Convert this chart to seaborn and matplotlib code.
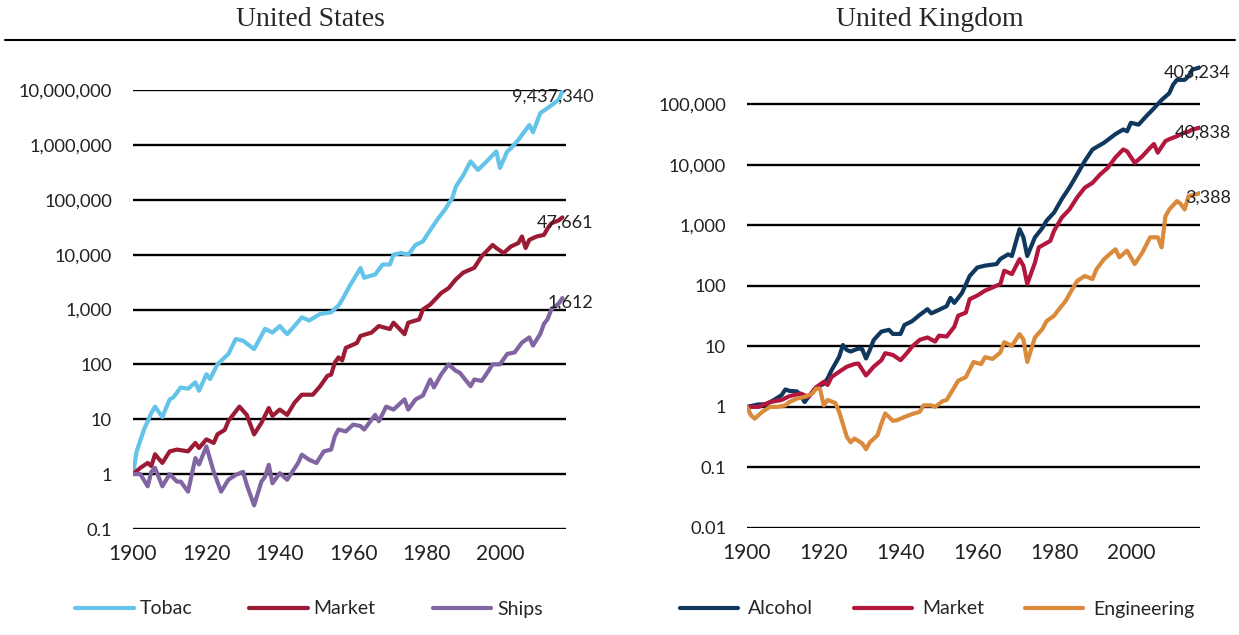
import matplotlib
matplotlib.use("Agg")
import matplotlib.pyplot as plt
from matplotlib.lines import Line2D
from matplotlib.ticker import FuncFormatter, FixedLocator
import seaborn as sns
import pandas as pd

# ---- United States (cumulative wealth, log scale)
us_tobac_years = [1900, 1901, 1903, 1905, 1906, 1908, 1910, 1911, 1913, 1915, 1917, 1918, 1920, 1921,
                  1923, 1926, 1928, 1930, 1933, 1936, 1938, 1940, 1942, 1944, 1946, 1948, 1951, 1954,
                  1956, 1957, 1959, 1962, 1963, 1966, 1968, 1970, 1971, 1973, 1975, 1977, 1979, 1981,
                  1983, 1985, 1987, 1988, 1990, 1992, 1994, 1996, 1999, 2000, 2002, 2003, 2005, 2008,
                  2009, 2011, 2013, 2016, 2017]
us_tobac = [1, 2.6, 6.5, 13, 17, 11, 23, 25, 38, 36, 47, 33, 66, 54,
            100, 155, 290, 270, 190, 445, 380, 500, 355, 500, 720, 630, 830, 890,
            1180, 1500, 2650, 5700, 3800, 4350, 6600, 6600, 10000, 10700, 10000, 15000, 17400, 28000,
            44000, 66000, 107000, 174000, 280000, 500000, 350000, 470000, 760000, 380000, 760000, 870000,
            1230000, 2300000, 1700000, 3800000, 4700000, 6600000, 9437340]

us_market_years = [1900, 1902, 1904, 1905, 1906, 1908, 1910, 1912, 1915, 1917, 1918, 1920, 1922, 1923,
                   1925, 1926, 1929, 1931, 1933, 1935, 1937, 1938, 1940, 1942, 1944, 1946, 1949, 1951,
                   1953, 1954, 1955, 1956, 1957, 1958, 1961, 1962, 1965, 1967, 1970, 1971, 1974, 1975,
                   1978, 1979, 1981, 1984, 1986, 1988, 1990, 1993, 1995, 1998, 1999, 2001, 2003, 2005,
                   2006, 2007, 2008, 2010, 2012, 2013, 2014, 2016, 2017]
us_market = [1, 1.3, 1.6, 1.4, 2.3, 1.6, 2.6, 2.8, 2.6, 3.7, 3.0, 4.3, 3.7, 5.3,
             6.4, 9.3, 17, 12, 5.3, 8.6, 16, 11.5, 15, 12, 20, 28, 28, 40,
             62, 65, 108, 134, 118, 200, 245, 330, 380, 500, 440, 575, 355, 575,
             660, 1000, 1230, 2000, 2450, 3550, 4700, 5750, 9300, 15000, 13200, 10700, 14100, 16200,
             21400, 13200, 18600, 21400, 22900, 30200, 37200, 42000, 47661]

us_ships_years = [1900, 1902, 1904, 1905, 1906, 1908, 1910, 1912, 1913, 1915, 1917, 1918, 1920, 1922,
                  1924, 1926, 1928, 1930, 1931, 1933, 1935, 1936, 1937, 1938, 1940, 1942, 1945, 1946,
                  1948, 1950, 1952, 1954, 1955, 1956, 1958, 1960, 1962, 1963, 1966, 1967, 1969, 1971,
                  1973, 1974, 1975, 1977, 1979, 1981, 1982, 1984, 1986, 1988, 1989, 1992, 1993, 1995,
                  1996, 1998, 2000, 2002, 2004, 2006, 2008, 2009, 2011, 2012, 2013, 2014, 2016, 2017]
us_ships = [1, 1.0, 0.6, 1.1, 1.3, 0.6, 1.0, 0.73, 0.73, 0.48, 1.96, 1.5, 3.2, 1.1,
            0.48, 0.79, 0.97, 1.1, 0.64, 0.27, 0.73, 0.9, 1.48, 0.68, 1.04, 0.79, 1.6, 2.26,
            1.83, 1.6, 2.6, 2.8, 4.9, 6.5, 6.0, 8.0, 7.5, 6.5, 12, 9.2, 17, 15,
            20, 23, 15, 23, 27, 53, 38, 66, 100, 76, 71, 40, 53, 50,
            62, 100, 100, 155, 165, 250, 310, 220, 360, 550, 670, 1000, 1280, 1612]

# ---- United Kingdom
uk_alcohol_years = [1900, 1903, 1905, 1907, 1909, 1910, 1911, 1913, 1914, 1915, 1916, 1918, 1920, 1921,
                    1922, 1924, 1925, 1926, 1927, 1929, 1930, 1931, 1932, 1933, 1935, 1937, 1938, 1940,
                    1941, 1943, 1945, 1947, 1948, 1950, 1952, 1953, 1954, 1956, 1958, 1960, 1962, 1965,
                    1966, 1968, 1969, 1971, 1972, 1973, 1975, 1977, 1978, 1980, 1982, 1984, 1986, 1988,
                    1990, 1993, 1996, 1998, 1999, 2000, 2002, 2004, 2006, 2008, 2010, 2011, 2012, 2014,
                    2015, 2016, 2018]
uk_alcohol = [1, 1.1, 1.1, 1.3, 1.56, 1.94, 1.84, 1.8, 1.56, 1.2, 1.46, 2.1, 2.4, 2.95,
              4, 6.7, 10.5, 8.7, 8.2, 9.2, 9.0, 6.3, 8.7, 12.7, 17.5, 18.7, 16, 16,
              22.5, 26, 33, 41, 35, 40, 46, 63, 52, 76, 145, 200, 215, 228,
              277, 330, 310, 860, 630, 310, 630, 910, 1180, 1620, 2700, 4200, 6900, 11500,
              17800, 23000, 32000, 38000, 35500, 49000, 45700, 63000, 85000, 117000, 151000, 209000,
              251000, 251000, 288000, 370000, 403234]

uk_market_years = [1900, 1903, 1906, 1909, 1911, 1914, 1916, 1918, 1920, 1921, 1922, 1924, 1926, 1928,
                   1929, 1931, 1933, 1935, 1936, 1938, 1940, 1942, 1943, 1945, 1947, 1949, 1950, 1952,
                   1954, 1955, 1957, 1958, 1960, 1962, 1964, 1966, 1967, 1969, 1971, 1972, 1973, 1975,
                   1976, 1979, 1980, 1982, 1984, 1986, 1988, 1990, 1992, 1994, 1996, 1998, 1999, 2001,
                   2003, 2005, 2006, 2007, 2009, 2010, 2012, 2014, 2015, 2016, 2018]
uk_market = [1, 1.0, 1.2, 1.3, 1.5, 1.66, 1.46, 2.1, 2.6, 2.3, 3.1, 3.8, 4.6, 5.1,
             5.2, 3.3, 4.6, 5.9, 7.7, 7.2, 5.9, 8.2, 9.9, 12.8, 14, 12, 15, 14.5,
             21, 32, 36, 60, 69, 83, 94, 107, 177, 156, 275, 214, 107, 240,
             430, 550, 810, 1340, 1820, 2880, 4170, 5000, 6900, 8900, 13200, 17800, 16600, 10700,
             13800, 19000, 21900, 15800, 24500, 26300, 29500, 33900, 35000, 38000, 40838]

uk_eng_years = [1900, 1901, 1902, 1904, 1906, 1908, 1910, 1911, 1913, 1915, 1917, 1918, 1919, 1920,
                1921, 1923, 1924, 1926, 1927, 1928, 1930, 1931, 1932, 1934, 1935, 1936, 1938, 1939,
                1941, 1943, 1945, 1946, 1948, 1949, 1951, 1952, 1954, 1955, 1957, 1959, 1961, 1962,
                1964, 1966, 1967, 1969, 1971, 1972, 1973, 1975, 1977, 1978, 1980, 1981, 1983, 1985,
                1986, 1988, 1990, 1991, 1993, 1995, 1996, 1997, 1999, 2001, 2003, 2005, 2007, 2008,
                2009, 2010, 2012, 2013, 2014, 2015, 2018]
uk_eng = [1, 0.73, 0.64, 0.83, 1.0, 1.0, 1.06, 1.2, 1.37, 1.46, 1.66, 2.0, 2.0, 1.06,
          1.3, 1.16, 0.83, 0.32, 0.26, 0.3, 0.25, 0.2, 0.26, 0.34, 0.53, 0.78, 0.59, 0.6,
          0.68, 0.76, 0.83, 1.06, 1.06, 1.0, 1.25, 1.3, 2.1, 2.7, 3.1, 5.5, 5.1, 6.6,
          6.2, 7.9, 11.7, 10.2, 15.9, 13, 5.5, 14, 19.5, 26, 32, 39, 56, 94,
          120, 145, 129, 186, 275, 355, 400, 295, 380, 228, 355, 630, 630, 430,
          1400, 1820, 2500, 2240, 1820, 3000, 3388]

us_series = [("Tobac", us_tobac_years, us_tobac, "#63C3E8"),
             ("Market", us_market_years, us_market, "#9C1B34"),
             ("Ships", us_ships_years, us_ships, "#8165A3")]
uk_series = [("Alcohol", uk_alcohol_years, uk_alcohol, "#10385F"),
             ("Market", uk_market_years, uk_market, "#B3173D"),
             ("Engineering", uk_eng_years, uk_eng, "#DA8A3B")]

us_ticks = [0.1, 1, 10, 100, 1000, 10000, 100000, 1000000, 10000000]
uk_ticks = [0.01, 0.1, 1, 10, 100, 1000, 10000, 100000]
year_ticks = [1900, 1920, 1940, 1960, 1980, 2000]

sns.set_style("white")
plt.rcParams['font.family'] = ['Lato', 'DejaVu Sans']

W, H = 1239, 635
fig = plt.figure(figsize=(W / 100, H / 100), dpi=100)


def fmt(v, pos):
    if v >= 1:
        return f"{int(round(v)):,}"
    return f"{v:g}"


def draw_panel(ax, series, ticks, ylim):
    for name, yrs, vals, col in series:
        df = pd.DataFrame({"year": yrs, "value": vals})
        sns.lineplot(data=df, x="year", y="value", ax=ax, color=col, lw=3.0,
                     label=name, estimator=None, sort=True)
        ax.annotate(f"{vals[-1]:,}", xy=(yrs[-1], vals[-1]), xytext=(31, -5),
                    textcoords="offset pixels", ha="right", va="center",
                    fontsize=13, color="#222222", annotation_clip=False)
    ax.set_yscale("log")
    ax.set_ylim(*ylim)
    ax.set_xlim(1900, 2018)
    ax.yaxis.set_major_locator(FixedLocator(ticks))
    ax.yaxis.set_minor_locator(FixedLocator([]))
    ax.yaxis.set_major_formatter(FuncFormatter(fmt))
    ax.set_xticks(year_ticks)
    ax.set_xlabel("")
    ax.set_ylabel("")
    for s in ax.spines.values():
        s.set_visible(False)
    ax.grid(True, axis="y", color="black", lw=1.7)
    ax.grid(False, axis="x")
    ax.set_axisbelow(True)
    ax.tick_params(axis="y", length=0, pad=15, labelsize=13.2, labelcolor="#222222")
    ax.tick_params(axis="x", length=0, pad=11, labelsize=15, labelcolor="#222222")
    ax.get_legend().remove()


ax1 = fig.add_axes([133 / W, 1 - 529 / H, (566 - 133) / W, (529 - 90) / H])
draw_panel(ax1, us_series, us_ticks, (0.1, 1e7))

ax2 = fig.add_axes([747 / W, 1 - 528 / H, (1200 - 747) / W, (528 - 43.5) / H])
draw_panel(ax2, uk_series, uk_ticks, (0.01, 1e6))

# legends at the bottom
h1, l1 = ax1.get_legend_handles_labels()
fig.legend(h1, l1, loc="center", bbox_to_anchor=(309 / W, 1 - 609 / H), ncol=3, frameon=False,
           fontsize=14, handlelength=3.0, handletextpad=0.3, columnspacing=2.95)
h2, l2 = ax2.get_legend_handles_labels()
fig.legend(h2, l2, loc="center", bbox_to_anchor=(937 / W, 1 - 609 / H), ncol=3, frameon=False,
           fontsize=14, handlelength=3.0, handletextpad=0.5, columnspacing=2.1)

# panel titles and rule
fig.text(310 / W, 1 - 19 / H, "United States", ha="center", va="center",
         fontsize=20, family="Liberation Serif")
fig.text(930 / W, 1 - 19 / H, "United Kingdom", ha="center", va="center",
         fontsize=20, family="Liberation Serif")
fig.add_artist(Line2D([5 / W, 1235 / W], [1 - 40 / H, 1 - 40 / H], color="black", lw=1.5))

fig.savefig("out.png", dpi=100)
